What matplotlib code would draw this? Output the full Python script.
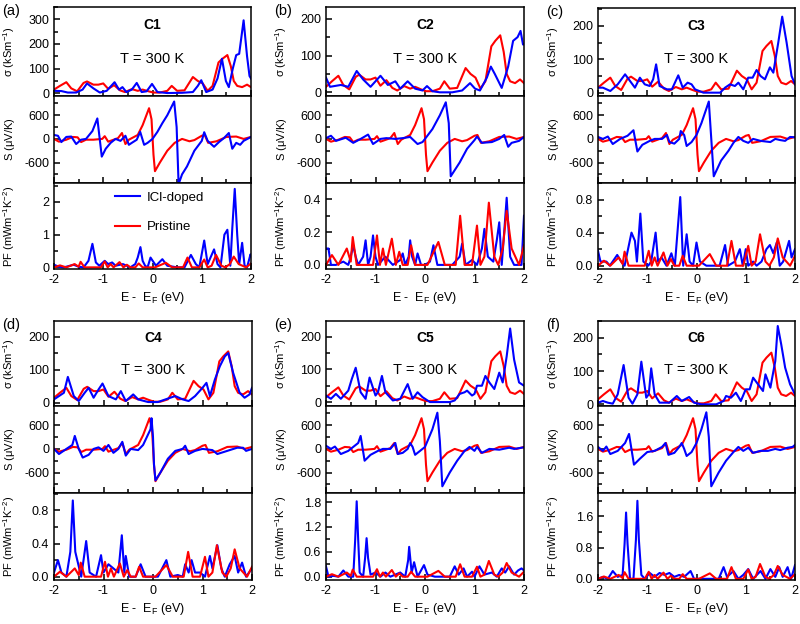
import matplotlib
matplotlib.use("Agg")
import matplotlib.pyplot as plt
from matplotlib.ticker import MultipleLocator, AutoMinorLocator, FormatStrFormatter

plt.rcParams["font.family"] = ["Liberation Sans", "DejaVu Sans"]
plt.rcParams["mathtext.default"] = "regular"
plt.rcParams["axes.unicode_minus"] = False

# ---------------- pristine (same in every panel) ----------------
pristine_sigma_e = [-2.0, -1.88, -1.75, -1.65, -1.53, -1.4, -1.33, -1.2, -1.1, -1.0, -0.9, -0.78, -0.66,
                    -0.56, -0.42, -0.3, -0.2, -0.08, 0.02, 0.15, 0.3, 0.39, 0.5, 0.65, 0.82, 0.92, 1.02,
                    1.12, 1.22, 1.34, 1.42, 1.52, 1.59, 1.65, 1.72, 1.82, 1.92, 2.0]
pristine_sigma = [15, 30, 45, 20, 8, 42, 48, 35, 35, 40, 18, 33, 12,
                  5, 17, 10, 15, 8, 3, 3, 10, 30, 10, 12, 66, 50, 40,
                  10, 30, 125, 140, 155, 110, 50, 30, 25, 35, 25]

pristine_s_e = [-2.0, -1.9, -1.75, -1.62, -1.52, -1.45, -1.35, -1.2, -1.02, -0.97, -0.9, -0.7, -0.62,
                -0.55, -0.48, -0.3, -0.2, -0.07, -0.02, 0.02, 0.05, 0.15, 0.3, 0.45, 0.6, 0.75, 0.85,
                1.0, 1.06, 1.13, 1.3, 1.5, 1.7, 1.85, 2.0]
pristine_s = [0, -70, -20, 50, 40, -80, -20, -20, 0, 70, -70, 20, 150,
              -130, -20, 100, 350, 780, 500, -400, -820, -600, -300, -100, 0, -60, -30,
              80, 100, -100, -60, 50, 60, 0, 50]

pristine_pf_e = [-2.0, -1.88, -1.75, -1.58, -1.5, -1.46, -1.38, -1.05, -0.97, -0.91, -0.85, -0.79, -0.67,
                 -0.59, -0.52, -0.45, -0.35, -0.28, -0.2, 0.05, 0.27, 0.4, 0.62, 0.71, 0.8, 0.95, 1.05,
                 1.12, 1.2, 1.29, 1.4, 1.48, 1.57, 1.65, 1.75, 1.9, 2.0]
pristine_pf = [0.0, 0.06, 0.0, 0.1, 0.02, 0.17, 0.0, 0.0, 0.18, 0.0, 0.1, 0.0, 0.16,
               0.0, 0.08, 0.0, 0.0, 0.12, 0.0, 0.0, 0.14, 0.0, 0.0, 0.3, 0.0, 0.0, 0.24,
               0.0, 0.05, 0.38, 0.05, 0.0, 0.1, 0.33, 0.1, 0.0, 0.12]

# ---------------- ICl-doped, C1 ----------------
c1_sigma_e = [-2.0, -1.85, -1.72, -1.55, -1.42, -1.33, -1.2, -1.07, -0.93, -0.77, -0.68, -0.61, -0.53,
              -0.42, -0.32, -0.22, -0.12, -0.01, 0.1, 0.3, 0.6, 0.82, 0.92, 0.99, 1.09, 1.22, 1.32,
              1.41, 1.49, 1.55, 1.63, 1.7, 1.76, 1.85, 1.92, 1.97, 2.0]
c1_sigma = [10, 9, 3, 3, 15, 40, 20, 3, 10, 45, 15, 25, 5,
            15, 42, 5, 8, 38, 5, 1, 2, 5, 30, 53, 5, 15, 60,
            140, 50, 25, 100, 155, 160, 296, 150, 70, 60]
c1_s_e = [-2.0, -1.92, -1.85, -1.75, -1.65, -1.55, -1.45, -1.35, -1.22, -1.12, -1.03, -0.95, -0.85,
          -0.75, -0.65, -0.55, -0.48, -0.42, -0.32, -0.25, -0.17, -0.1, 0.0, 0.1, 0.2, 0.3, 0.44,
          0.49, 0.53, 0.6, 0.7, 0.85, 1.0, 1.05, 1.12, 1.25, 1.35, 1.45, 1.55, 1.62, 1.7, 1.78,
          1.85, 2.0]
c1_s = [100, 80, -80, 50, 60, -130, -20, 0, 200, 520, -450, -250, -100,
        0, -50, 80, -150, -100, -20, 180, -150, -100, 0, 180, 400, 600, 950,
        300, -1150, -900, -700, -300, -50, 170, -50, -200, -80, 20, 150, -250, -100, -150,
        -50, 50]
c1_pf_e = [-2.0, -1.9, -1.8, -1.6, -1.5, -1.4, -1.3, -1.22, -1.15, -1.08, -0.97, -0.9, -0.82,
           -0.75, -0.6, -0.45, -0.35, -0.3, -0.245, -0.2, -0.15, -0.1, -0.04, 0.07, 0.2, 0.3, 0.5,
           0.65, 0.78, 0.88, 0.95, 1.05, 1.12, 1.25, 1.32, 1.38, 1.46, 1.52, 1.58, 1.62, 1.67,
           1.72, 1.76, 1.82, 1.87, 1.92, 1.99, 2.0]
c1_pf = [0.08, 0.02, 0.0, 0.08, 0.02, 0.0, 0.2, 0.72, 0.15, 0.05, 0.2, 0.1, 0.15,
         0.05, 0.1, 0.0, 0.1, 0.3, 0.62, 0.2, 0.05, 0.0, 0.3, 0.05, 0.25, 0.05, 0.0,
         0.0, 0.38, 0.1, 0.0, 0.82, 0.1, 0.55, 0.1, 0.0, 1.0, 1.15, 0.05, 1.2, 2.4,
         1.0, 0.1, 0.75, 0.05, 0.0, 0.4, 0.35]

# ---------------- ICl-doped, C2 ----------------
c2_sigma_e = [-2.0, -1.92, -1.7, -1.55, -1.38, -1.25, -1.1, -0.9, -0.75, -0.6, -0.5, -0.35, -0.2,
              -0.05, 0.04, 0.15, 0.3, 0.55, 0.75, 0.91, 1.01, 1.11, 1.25, 1.33, 1.41, 1.55, 1.68,
              1.78, 1.87, 1.93, 1.98, 2.0]
c2_sigma = [40, 15, 20, 15, 58, 35, 15, 45, 20, 30, 10, 30, 10,
            5, 17, 3, 0, 0, 5, 25, 10, 5, 40, 70, 50, 12, 70,
            140, 150, 167, 130, 130]
c2_s_e = [-2.0, -1.9, -1.8, -1.6, -1.45, -1.3, -1.15, -1.05, -0.9, -0.78, -0.6, -0.45, -0.3,
          -0.15, -0.05, 0.0, 0.15, 0.3, 0.42, 0.48, 0.52, 0.7, 0.85, 1.0, 1.05, 1.15, 1.35,
          1.5, 1.6, 1.68, 1.75, 1.9, 2.0]
c2_s = [20, 80, -50, 30, -100, 0, 110, -130, 0, 20, 0, 20, 50,
        -130, -80, 0, 250, 600, 930, 400, -950, -600, -250, -30, 60, -100, -80,
        0, 100, -200, -100, -50, 50]
c2_pf_e = [-2.0, -1.95, -1.9, -1.8, -1.65, -1.55, -1.5, -1.45, -1.4, -1.35, -1.25, -1.2, -1.15,
           -1.1, -1.05, -1.0, -0.95, -0.8, -0.65, -0.5, -0.45, -0.4, -0.33, -0.3, -0.26, -0.2,
           -0.15, -0.08, 0.0, 0.1, 0.17, 0.25, 0.55, 0.7, 0.75, 0.82, 0.95, 1.05, 1.15, 1.2,
           1.27, 1.38, 1.45, 1.5, 1.55, 1.6, 1.65, 1.72, 1.8, 1.95, 2.0]
c2_pf = [0.1, 0.1, 0.0, 0.0, 0.02, 0.0, 0.05, 0.12, 0.05, 0.0, 0.05, 0.15, 0.0,
         0.05, 0.18, 0.05, 0.0, 0.05, 0.0, 0.03, 0.07, 0.0, 0.05, 0.15, 0.05, 0.0,
         0.07, 0.0, 0.0, 0.02, 0.12, 0.0, 0.0, 0.05, 0.13, 0.0, 0.03, 0.0, 0.1, 0.22,
         0.05, 0.02, 0.15, 0.26, 0.0, 0.2, 0.41, 0.05, 0.0, 0.0, 0.3]

# ---------------- ICl-doped, C3 ----------------
c3_sigma_e = [-2.0, -1.9, -1.75, -1.6, -1.45, -1.35, -1.25, -1.15, -1.05, -0.95, -0.88, -0.82, -0.75,
              -0.6, -0.5, -0.37, -0.28, -0.18, -0.1, -0.03, 0.14, 0.48, 0.58, 0.68, 0.78, 0.85, 0.95,
              1.05, 1.14, 1.22, 1.3, 1.39, 1.49, 1.56, 1.66, 1.74, 1.83, 1.93, 2.0]
c3_sigma = [15, 15, 5, 25, 55, 35, 15, 45, 25, 20, 40, 85, 20,
            10, 10, 52, 15, 30, 25, 10, 0, 0, 15, 25, 20, 30, 10,
            45, 45, 68, 50, 40, 76, 60, 150, 228, 150, 50, 25]
c3_s_e = [-2.0, -1.9, -1.8, -1.7, -1.55, -1.4, -1.28, -1.2, -1.1, -0.95, -0.85, -0.7, -0.6,
          -0.55, -0.45, -0.35, -0.32, -0.25, -0.2, -0.1, 0.0, 0.1, 0.25, 0.3, 0.35, 0.5, 0.65,
          0.75, 0.85, 0.95, 1.05, 1.15, 1.3, 1.5, 1.6, 1.7, 1.8, 1.9, 2.0]
c3_s = [50, 0, 60, -130, 0, 80, 220, -320, -150, -50, 0, 0, 100,
        -80, -120, 0, 200, 100, -180, -80, 100, 400, 950, 0, -950, -550, -300,
        -100, 50, -50, -100, 0, -50, -80, 0, -30, -50, 50, 40]
c3_pf_e = [-2.0, -1.95, -1.83, -1.76, -1.61, -1.53, -1.46, -1.32, -1.25, -1.21, -1.14, -1.08, -0.98,
           -0.92, -0.83, -0.78, -0.71, -0.61, -0.51, -0.44, -0.33, -0.27, -0.2, -0.14, -0.07, 0.0,
           0.07, 0.2, 0.47, 0.58, 0.64, 0.78, 0.88, 0.94, 1.0, 1.05, 1.15, 1.22, 1.32, 1.42, 1.49,
           1.56, 1.63, 1.69, 1.76, 1.88, 1.93, 2.0]
c3_pf = [0.18, 0.05, 0.05, 0.0, 0.13, 0.05, 0.0, 0.4, 0.3, 0.05, 0.63, 0.05, 0.0,
         0.05, 0.4, 0.05, 0.1, 0.0, 0.15, 0.0, 0.83, 0.0, 0.38, 0.05, 0.0, 0.28,
         0.05, 0.0, 0.0, 0.25, 0.0, 0.05, 0.2, 0.0, 0.2, 0.0, 0.05, 0.0, 0.05, 0.2, 0.25,
         0.15, 0.28, 0.0, 0.05, 0.3, 0.1, 0.2]

# ---------------- ICl-doped, C4 ----------------
c4_sigma_e = [-2.0, -1.8, -1.72, -1.6, -1.5, -1.38, -1.3, -1.2, -1.1, -1.02, -0.9, -0.75, -0.65,
              -0.55, -0.4, -0.3, -0.1, 0.1, 0.35, 0.45, 0.6, 0.72, 0.85, 1.0, 1.08, 1.15, 1.25,
              1.35, 1.45, 1.52, 1.62, 1.75, 1.85, 1.95, 2.0]
c4_sigma = [10, 30, 78, 20, 5, 30, 45, 15, 40, 58, 20, 10, 35,
            5, 25, 10, 2, 2, 15, 20, 10, 5, 20, 45, 60, 20, 70,
            110, 140, 150, 90, 30, 15, 25, 45]
c4_s_e = [-2.0, -1.9, -1.75, -1.63, -1.58, -1.5, -1.42, -1.3, -1.2, -1.1, -1.0, -0.9, -0.8,
          -0.7, -0.62, -0.55, -0.45, -0.3, -0.2, -0.05, -0.03, 0.0, 0.02, 0.05, 0.15, 0.3, 0.45,
          0.6, 0.65, 0.72, 0.85, 1.0, 1.2, 1.3, 1.5, 1.7, 1.82, 1.88, 2.0]
c4_s = [0, -130, 0, 100, 330, 0, -220, -150, 0, 40, -50, 100, -100,
        0, 180, -170, 0, -30, 100, 500, 780, 300, -400, -800, -600, -250, -50,
        0, 80, -130, -50, 0, -30, -130, -50, 30, 30, -50, 0]
c4_pf_e = [-2.0, -1.92, -1.85, -1.75, -1.67, -1.62, -1.57, -1.45, -1.35, -1.28, -1.15, -1.05, -1.0,
           -0.9, -0.8, -0.7, -0.63, -0.58, -0.55, -0.48, -0.35, -0.25, -0.15, 0.1, 0.27, 0.35,
           0.5, 0.6, 0.65, 0.72, 0.78, 0.85, 0.95, 1.05, 1.15, 1.2, 1.3, 1.38, 1.45, 1.55, 1.6,
           1.65, 1.72, 1.8, 1.88, 2.0]
c4_pf = [0.05, 0.2, 0.05, 0.0, 0.3, 0.92, 0.3, 0.0, 0.43, 0.05, 0.0, 0.26, 0.05,
         0.15, 0.1, 0.05, 0.5, 0.05, 0.25, 0.0, 0.0, 0.15, 0.0, 0.0, 0.2, 0.0,
         0.02, 0.0, 0.15, 0.05, 0.2, 0.05, 0.05, 0.0, 0.25, 0.1, 0.38, 0.1, 0.0, 0.15, 0.2,
         0.25, 0.05, 0.17, 0.0, 0.1]

# ---------------- ICl-doped, C5 ----------------
c5_sigma_e = [-2.0, -1.9, -1.8, -1.7, -1.55, -1.48, -1.4, -1.3, -1.2, -1.12, -1.0, -0.95, -0.87,
              -0.8, -0.65, -0.5, -0.35, -0.25, -0.15, -0.05, 0.1, 0.5, 0.6, 0.7, 0.8, 0.85, 0.95,
              1.0, 1.05, 1.15, 1.22, 1.3, 1.4, 1.5, 1.57, 1.65, 1.72, 1.8, 1.9, 2.0]
c5_sigma = [20, 10, 25, 10, 35, 70, 105, 30, 10, 75, 20, 30, 80,
            30, 5, 10, 55, 10, 30, 15, 0, 0, 5, 25, 30, 35, 20,
            25, 50, 50, 80, 60, 40, 90, 60, 140, 225, 130, 60, 50]
c5_s_e = [-2.0, -1.9, -1.82, -1.7, -1.55, -1.35, -1.3, -1.22, -1.1, -0.95, -0.85, -0.7, -0.6,
          -0.55, -0.45, -0.35, -0.3, -0.25, -0.2, -0.1, 0.0, 0.15, 0.25, 0.3, 0.35, 0.5, 0.65,
          0.8, 0.9, 1.0, 1.05, 1.15, 1.3, 1.5, 1.7, 1.8, 2.0]
c5_s = [80, 0, 60, -130, -50, 150, 330, -300, -150, -50, 0, 0, 150,
        -130, -100, 0, 150, 50, -150, -50, 50, 500, 920, 200, -950, -600, -300,
        -50, 50, -50, 50, -100, 0, -20, 30, 0, 40]
c5_pf_e = [-2.0, -1.95, -1.85, -1.75, -1.65, -1.55, -1.45, -1.41, -1.38, -1.35, -1.32, -1.25, -1.21,
           -1.18, -1.15, -1.1, -1.0, -0.9, -0.8, -0.7, -0.5, -0.4, -0.34, -0.32, -0.27, -0.22,
           -0.15, -0.02, 0.05, 0.2, 0.5, 0.6, 0.68, 0.78, 0.85, 0.95, 1.0, 1.1, 1.2, 1.35, 1.45,
           1.55, 1.62, 1.7, 1.8, 1.88, 1.95, 2.0]
c5_pf = [0.25, 0.0, 0.02, 0.0, 0.15, 0.0, 0.0, 0.9, 1.82, 0.9, 0.1, 0.0, 0.45,
         0.93, 0.45, 0.05, 0.1, 0.0, 0.1, 0.0, 0.1, 0.0, 0.4, 0.72, 0.1, 0.35,
         0.0, 0.28, 0.05, 0.0, 0.0, 0.25, 0.05, 0.2, 0.0, 0.12, 0.0, 0.25, 0.05, 0.1, 0.0,
         0.2, 0.1, 0.25, 0.05, 0.15, 0.2, 0.15]

# ---------------- ICl-doped, C6 ----------------
c6_sigma_e = [-2.0, -1.9, -1.8, -1.7, -1.6, -1.48, -1.38, -1.3, -1.2, -1.12, -1.02, -0.97, -0.92,
              -0.85, -0.75, -0.55, -0.4, -0.3, -0.15, -0.05, 0.1, 0.4, 0.55, 0.6, 0.7, 0.8, 0.9,
              1.0, 1.08, 1.15, 1.25, 1.35, 1.4, 1.5, 1.6, 1.65, 1.72, 1.8, 1.9, 2.0]
c6_sigma = [5, 10, 5, 2, 30, 118, 20, 2, 30, 128, 20, 30, 108,
            30, 5, 5, 25, 10, 22, 5, 0, 0, 10, 25, 20, 35, 10,
            45, 45, 80, 60, 40, 90, 50, 130, 235, 180, 110, 60, 30]
c6_s_e = [-2.0, -1.9, -1.83, -1.75, -1.6, -1.45, -1.37, -1.27, -1.15, -1.0, -0.85, -0.7, -0.63,
          -0.57, -0.45, -0.35, -0.3, -0.25, -0.2, -0.1, 0.0, 0.1, 0.2, 0.25, 0.3, 0.45, 0.6,
          0.75, 0.85, 0.95, 1.05, 1.15, 1.3, 1.45, 1.6, 1.7, 1.85, 1.95, 2.0]
c6_s = [50, -50, 60, -130, -50, 150, 380, -400, -250, -80, -50, 50, 150,
        -150, -100, 50, 150, 0, -180, -80, 150, 500, 930, 300, -950, -600, -300,
        -80, 50, -50, 30, -100, -50, -50, 0, -30, 30, 50, 100]
c6_pf_e = [-2.0, -1.9, -1.8, -1.7, -1.6, -1.5, -1.46, -1.43, -1.4, -1.35, -1.28, -1.23, -1.2,
           -1.17, -1.12, -1.05, -0.95, -0.85, -0.75, -0.65, -0.55, -0.45, -0.35, -0.25, -0.12,
           -0.05, 0.2, 0.45, 0.55, 0.62, 0.75, 0.85, 0.95, 1.05, 1.15, 1.3, 1.4, 1.5, 1.6, 1.68,
           1.75, 1.85, 1.92, 2.0]
c6_pf = [0.0, 0.05, 0.0, 0.2, 0.05, 0.1, 0.9, 1.7, 0.9, 0.0, 0.0, 1.0, 2.0,
         1.0, 0.1, 0.0, 0.15, 0.05, 0.15, 0.1, 0.15, 0.05, 0.1, 0.05, 0.2,
         0.0, 0.0, 0.0, 0.3, 0.05, 0.2, 0.0, 0.1, 0.25, 0.0, 0.2, 0.0, 0.25, 0.05, 0.3,
         0.05, 0.3, 0.0, 0.35]

BLUE = "#0000ff"
RED = "#ff0000"
W, H = 800, 624

fig = plt.figure(figsize=(8, 6.24), dpi=100)


def px_axes(x0, x1, y0, y1):
    return fig.add_axes([x0 / W, 1 - y1 / H, (x1 - x0) / W, (y1 - y0) / H])


def style(ax, ystep, yfmt):
    ax.set_xlim(-2, 2)
    ax.xaxis.set_major_locator(MultipleLocator(1))
    ax.xaxis.set_minor_locator(MultipleLocator(0.5))
    ax.yaxis.set_major_locator(MultipleLocator(ystep))
    ax.yaxis.set_minor_locator(AutoMinorLocator(2))
    ax.yaxis.set_major_formatter(FormatStrFormatter(yfmt))
    ax.tick_params(which="both", direction="in", top=False, right=False, labelsize=9, width=1.1)
    ax.tick_params(which="major", length=4.5)
    ax.tick_params(which="minor", length=3)
    for sp in ax.spines.values():
        sp.set_linewidth(1.1)
    # label's right edge ~37 px left of the axis, so its left edge stays inside the figure
    ax.yaxis.set_label_coords(-37 / 197, 0.5)


panels = [
    ("(a)", "C1", 54, 251, (7, 96, 183, 269), (-11, 350), (-0.05, 2.58), 1, "%d",
     (c1_sigma_e, c1_sigma), (c1_s_e, c1_s), (c1_pf_e, c1_pf)),
    ("(b)", "C2", 326, 524, (7, 96, 183, 269), (-10, 232), (-0.025, 0.5), 0.2, "%.1f",
     (c2_sigma_e, c2_sigma), (c2_s_e, c2_s), (c2_pf_e, c2_pf)),
    ("(c)", "C3", 598, 795, (8, 96, 183, 269), (-10, 254), (-0.04, 1.0), 0.4, "%.1f",
     (c3_sigma_e, c3_sigma), (c3_s_e, c3_s), (c3_pf_e, c3_pf)),
    ("(d)", "C4", 54, 252, (321, 406, 493, 580), (-10, 247), (-0.04, 1.01), 0.4, "%.1f",
     (c4_sigma_e, c4_sigma), (c4_s_e, c4_s), (c4_pf_e, c4_pf)),
    ("(e)", "C5", 326, 524, (321, 406, 493, 580), (-12, 248), (-0.08, 2.02), 0.6, "%.1f",
     (c5_sigma_e, c5_sigma), (c5_s_e, c5_s), (c5_pf_e, c5_pf)),
    ("(f)", "C6", 598, 795, (321, 406, 493, 580), (-5, 250), (-0.03, 2.2), 0.8, "%.1f",
     (c6_sigma_e, c6_sigma), (c6_s_e, c6_s), (c6_pf_e, c6_pf)),
]

lw = 1.5
for tag, name, x0, x1, rows, sig_lim, pf_lim, pf_step, pf_fmt, sig, see, pf in panels:
    ax1 = px_axes(x0, x1, rows[0], rows[1])
    ax2 = px_axes(x0, x1, rows[1], rows[2])
    ax3 = px_axes(x0, x1, rows[2], rows[3])

    ax1.plot(pristine_sigma_e, pristine_sigma, color=RED, lw=lw)
    ax1.plot(*sig, color=BLUE, lw=lw)
    ax1.set_ylim(*sig_lim)
    style(ax1, 100, "%d")
    ax1.set_ylabel("σ (kSm$^{-1}$)", fontsize=8)
    ax1.tick_params(labelbottom=False)
    ax1.text(0.5, 0.8, name, transform=ax1.transAxes, ha="center", va="center",
             fontsize=10, fontweight="bold")
    ax1.text(0.5, 0.42, "T = 300 K", transform=ax1.transAxes, ha="center", va="center",
             fontsize=10.5)

    ax2.plot(pristine_s_e, pristine_s, color=RED, lw=lw)
    ax2.plot(*see, color=BLUE, lw=lw)
    ax2.set_ylim(-1120, 1090)
    style(ax2, 600, "%d")
    ax2.set_ylabel("S ($\\mu$V/K)", fontsize=8)
    ax2.tick_params(labelbottom=False)

    l_icl, = ax3.plot(*pf, color=BLUE, lw=lw, label="ICl-doped")
    l_pri, = ax3.plot(pristine_pf_e, pristine_pf, color=RED, lw=lw, label="Pristine")
    ax3.set_ylim(*pf_lim)
    style(ax3, pf_step, pf_fmt)
    ax3.set_ylabel("PF (mWm$^{-1}$K$^{-2}$)", fontsize=8)
    ax3.set_xlabel("E -  E$_F$ (eV)", fontsize=9, labelpad=3)

    fig.text(x0 / W - 52 / W, 1 - (rows[0] + 4) / H, tag, fontsize=10.5, ha="left", va="center")

    if name == "C1":
        ax3.legend(handles=[l_icl, l_pri], loc="upper left", bbox_to_anchor=(0.27, 0.99),
                   frameon=False, fontsize=9.5, handlelength=1.9, handletextpad=0.5,
                   labelspacing=1.3, borderaxespad=0.2)

fig.savefig("out.png", dpi=100, facecolor="white")
